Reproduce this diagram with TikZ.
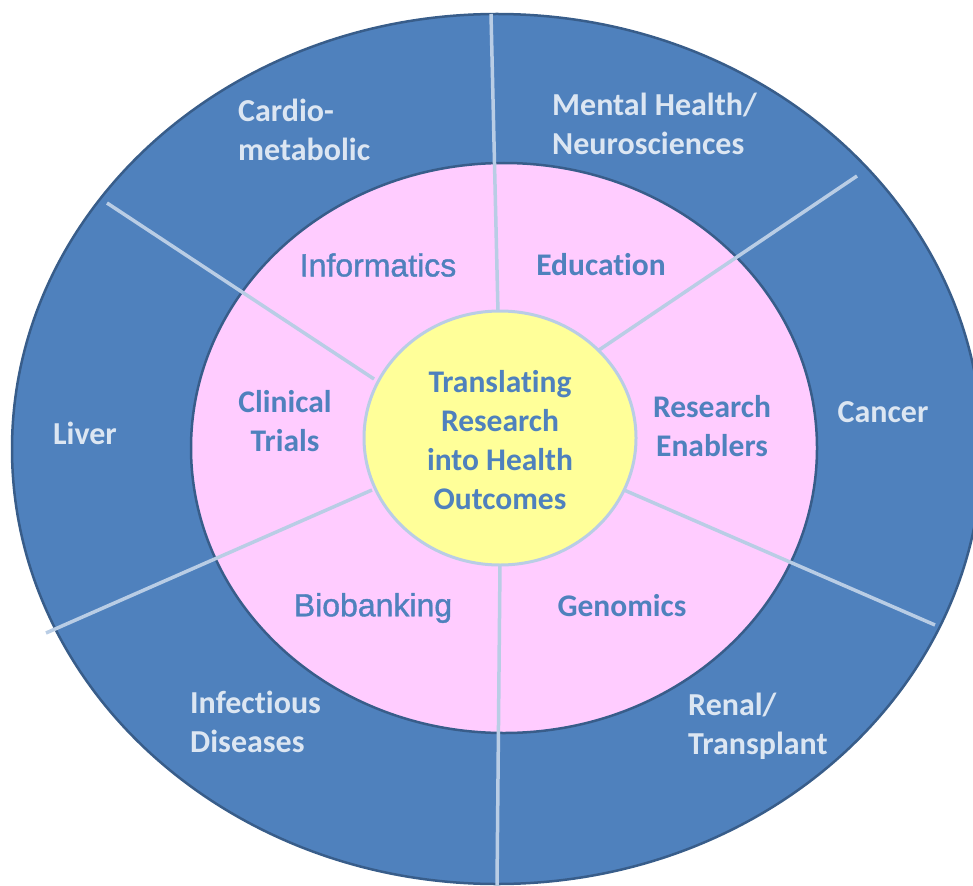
\documentclass[tikz,border=0pt]{standalone}
\usepackage{fontspec}
\setmainfont{Carlito}[Ligatures=NoCommon]
\newfontfamily\arialfont{Liberation Sans}[BoldFont=Liberation Sans, BoldFeatures={FakeBold=1.2}]
\usepackage{xcolor}
\usetikzlibrary{positioning}
\definecolor{ringblue}{HTML}{4F81BD}
\definecolor{ringedge}{HTML}{385D8A}
\definecolor{pinkfill}{HTML}{FFCCFF}
\definecolor{hubfill}{HTML}{FFFF99}
\definecolor{spokeblue}{HTML}{B9CDE5}
\definecolor{paletext}{HTML}{DCE6F2}
\tikzset{
ring/.style={fill=ringblue, draw=ringedge, line width=2.5pt},
inner ring/.style={fill=pinkfill, draw=ringedge, line width=2.5pt},
hub/.style={fill=hubfill, draw=spokeblue, line width=3pt},
spoke/.style={draw=spokeblue, line width=3.5pt},
area/.style={text=paletext, font=\bfseries\fontsize{32}{39}\selectfont, inner sep=0pt},
core/.style={text=ringblue, font=\bfseries\fontsize{31.5}{39}\selectfont, inner sep=0pt, align=center},
core arial/.style={text=ringblue, font=\arialfont\bfseries\fontsize{32}{39}\selectfont, inner sep=0pt}
}

\begin{document}
\begin{tikzpicture}[x=1pt,y=-1pt]
\useasboundingbox (0,0) rectangle (973,885);
\clip (0,0) rectangle (973,885);

% rings
\draw[ring] (497,449) ellipse [x radius=485, y radius=435];
\draw[inner ring] (504,448) ellipse [x radius=313, y radius=285];

% spokes
\coordinate (top a) at (491,14);    \coordinate (top b) at (498,313);
\coordinate (bot a) at (500,564);   \coordinate (bot b) at (497,885);
\coordinate (ul a) at (107,203);    \coordinate (ul b) at (374,379);
\coordinate (ur a) at (857,176);    \coordinate (ur b) at (599,350);
\coordinate (ll a) at (46,633);     \coordinate (ll b) at (372,490);
\coordinate (lr a) at (624,490);    \coordinate (lr b) at (935,625);
\foreach \s in {top,bot,ul,ur,ll,lr}
  \draw[spoke] (\s\space a) -- (\s\space b);

\draw[hub] (500,438) ellipse [x radius=136, y radius=127];

% outer areas
\node[area, align=left, anchor=west] (cardio) at (238,130) {Cardio-\\metabolic};
\node[area, align=left, anchor=west] (mental) at (552,124) {Mental Health/\\Neurosciences};
\node[area] (liver) at (85,433) {Liver};
\node[area] (cancer) at (883,412) {Cancer};
\node[area, align=left, anchor=west] (infect) at (190,722) {Infectious\\Diseases};
\node[area, align=left, anchor=west] (renal) at (688,726) {Renal/\\Transplant};

% inner areas
\node[core arial] (informatics) at (378,265) {Informatics};
\node[core] (education) at (601,265) {Education};
\node[core] (trials) at (285,421) {Clinical\\Trials};
\node[core] (enablers) at (712,426) {Research\\Enablers};
\node[core arial] (biobank) at (373,608) {Biobanking};
\node[core] (genomics) at (622,606) {Genomics};

% centre
\node[core] (centre) at (500,440) {Translating\\Research\\into Health\\Outcomes};
\end{tikzpicture}
\end{document}
